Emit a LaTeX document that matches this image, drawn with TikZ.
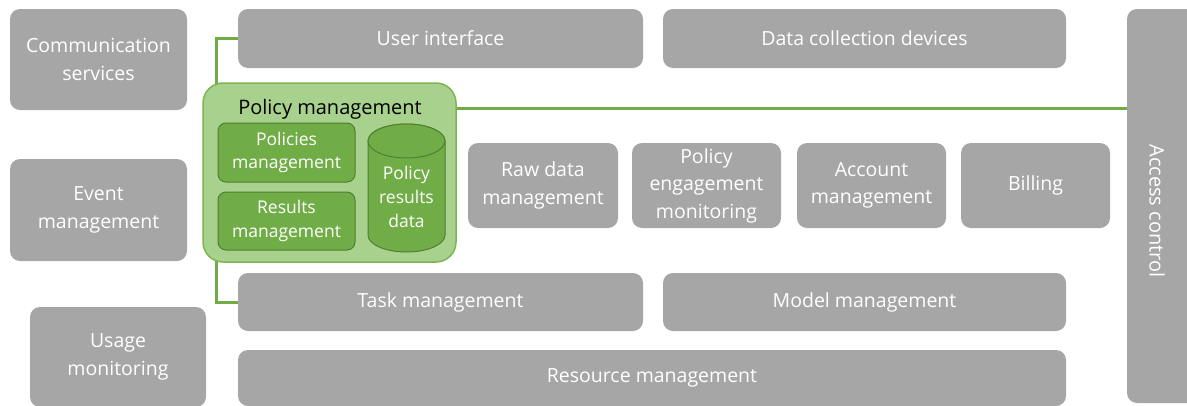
\documentclass[tikz,border=0pt]{standalone}
\usepackage{fontspec}
\setmainfont{Open Sans}
\usetikzlibrary{backgrounds}
\definecolor{boxgray}{HTML}{A6A6A6}
\definecolor{lgreen}{HTML}{A9D18E}
\definecolor{mgreen}{HTML}{70AD47}
\definecolor{dgreen}{HTML}{507E32}
\definecolor{lborder}{HTML}{7CB552}
\tikzset{
  gbox/.style={fill=boxgray, draw=none, rounded corners=10pt, text=white,
    font=\fontsize{19.5}{27.5}\selectfont, align=center, inner sep=0pt},
  ibox/.style={fill=mgreen, draw=dgreen, line width=1pt, rounded corners=8pt, text=white,
    font=\fontsize{17.5}{23.5}\selectfont, align=center, inner sep=0pt,
    minimum width=137pt},
  pbox/.style={fill=lgreen, draw=lborder, line width=1.5pt, rounded corners=20pt, inner sep=0pt},
  cylstyle/.style={fill=mgreen, draw=dgreen, line width=1pt},
  gline/.style={draw=mgreen, line width=3pt}
}
\begin{document}
\begin{tikzpicture}[x=1pt,y=-1pt]
\useasboundingbox (0,0) rectangle (1187,405);
% left column
\node[gbox, minimum width=177pt, minimum height=101pt] (comm) at (98.5,59.5) {Communication\\services};
\node[gbox, minimum width=177pt, minimum height=102pt] (event) at (98.5,210) {Event\\management};
\node[gbox, minimum width=176pt, minimum height=100pt] (usage) at (118,357) {Usage\\monitoring};
% top row
\node[gbox, minimum width=405pt, minimum height=59pt] (ui) at (440.5,38.5) {User interface};
\node[gbox, minimum width=403pt, minimum height=59pt] (dcd) at (864.5,38.5) {Data collection devices};
% bottom rows
\node[gbox, minimum width=405pt, minimum height=58pt] (task) at (440.5,302) {Task management};
\node[gbox, minimum width=403pt, minimum height=58pt] (model) at (864.5,302) {Model management};
\node[gbox, minimum width=828pt, minimum height=56pt] (res) at (652,378) {Resource management};
% middle row
\node[gbox, minimum width=150pt, minimum height=85pt] (raw) at (543,185.5) {Raw data\\management};
\node[gbox, minimum width=149pt, minimum height=85pt] (pem) at (706.5,185.5) {Policy\\engagement\\monitoring};
\node[gbox, minimum width=149pt, minimum height=85pt] (acc) at (871.5,185.5) {Account\\management};
\node[gbox, minimum width=149pt, minimum height=85pt] (bill) at (1035.5,185.5) {Billing};
% access control
\node[gbox, minimum width=73pt, minimum height=394pt] (access) at (1163.5,206) {};
\node[text=white, font=\fontsize{20}{24}\selectfont, rotate=-90] (acclabel) at (1157,211) {Access control};
% policy management
\node[pbox, minimum width=253pt, minimum height=179pt] (pol) at (329.5,172.5) {};
\node[font=\fontsize{20}{24}\selectfont, text=black] (poltitle) at (330,109) {Policy management};
\node[ibox, minimum height=59pt] (polm) at (286.5,152.5) {Policies\\management};
\node[ibox, minimum height=58pt] (resm) at (286.5,221) {Results\\management};
% cylinder (policy results data)
\path[cylstyle] (368,141) -- (368,235) arc (180:360:38.5pt and 17pt) -- (445,141) arc (0:180:38.5pt and 17pt) -- cycle;
\path[cylstyle] (406.5,141) ellipse (38.5pt and 17pt);
\node[text=white, font=\fontsize{17.5}{24}\selectfont, align=center] (prdlabel) at (406.5,197) {Policy\\results\\data};
% connectors
\begin{scope}[on background layer]
\draw[gline] (ui.west) -| ([xshift=14pt,yshift=-4pt]pol.north west);
\draw[gline] (task.west) -| ([xshift=14pt,yshift=4pt]pol.south west);
\coordinate (pe) at ([yshift=64.5pt]pol.east);
\draw[gline] ([xshift=-4pt]pe) -- ([xshift=5pt]pe -| access.west);
\end{scope}
\end{tikzpicture}
\end{document}
